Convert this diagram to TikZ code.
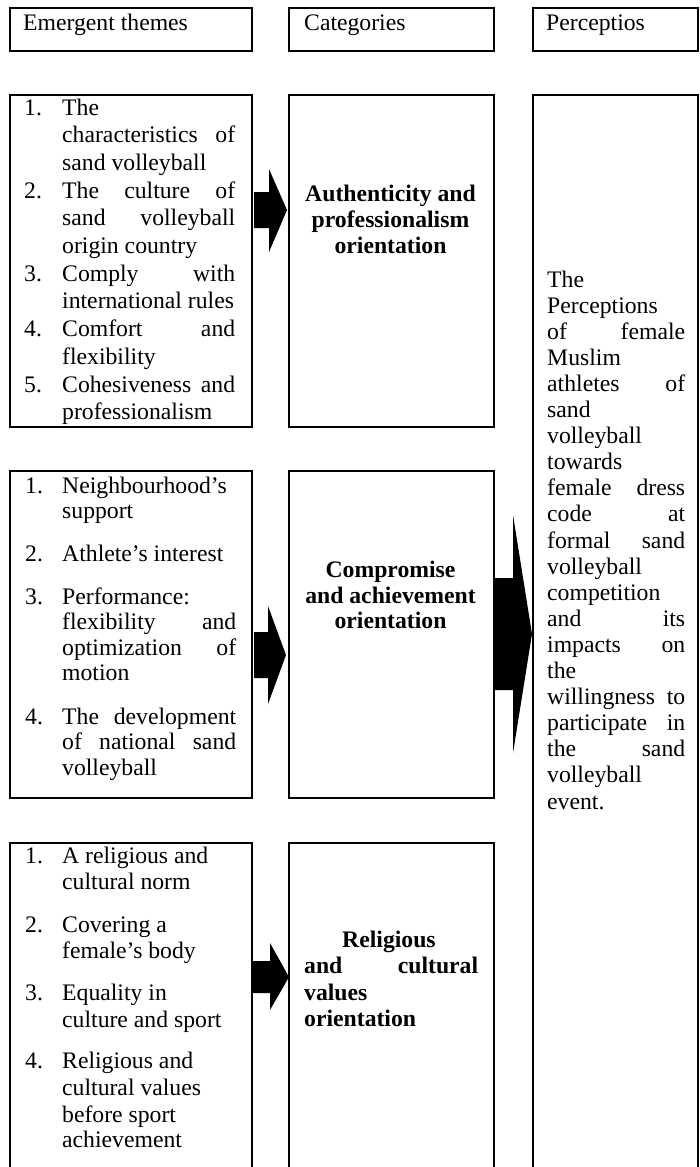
\documentclass[tikz,border=0pt]{standalone}
\usepackage{fontspec}
\setmainfont{Liberation Serif}
\newcommand\JL[2]{\makebox[#1pt][s]{#2}}
\begin{document}
\begin{tikzpicture}[x=1pt,y=-1pt,
  box/.style={draw=black, line width=1.6pt, inner sep=0pt, anchor=north west},
  txt/.style={anchor=base west, inner sep=0pt, font=\fontsize{23.7}{26}\selectfont},
  ctxt/.style={anchor=base, inner sep=0pt, font=\fontsize{23.7}{26}\selectfont\bfseries},
  btxt/.style={anchor=base west, inner sep=0pt, font=\fontsize{23.7}{26}\selectfont\bfseries},
  blk/.style={fill=black, draw=none}]
\useasboundingbox (0,0) rectangle (699,1167);
\fill[white] (0,0) rectangle (699,1167);
\clip (0,0) rectangle (699,1167);

% header boxes
\node[box, minimum width=242pt, minimum height=43pt] (h1) at (9,7) {};
\node[box, minimum width=205pt, minimum height=43pt] (h2) at (288,7) {};
\node[box, minimum width=165pt, minimum height=43pt] (h3) at (532,7) {};
\node[txt] (ht1) at (23,30) {Emergent themes};
\node[txt] (ht2) at (304,30) {Categories};
\node[txt] (ht3) at (546,30) {Perceptios};

% main boxes
\node[box, minimum width=242pt, minimum height=332pt] (l1) at (9,94) {};
\node[box, minimum width=205pt, minimum height=332pt] (c1) at (288,94) {};
\node[box, minimum width=242pt, minimum height=327pt] (l2) at (9,470) {};
\node[box, minimum width=205pt, minimum height=327pt] (c2) at (288,470) {};
\node[box, minimum width=242pt, minimum height=340pt] (l3) at (9,842) {};
\node[box, minimum width=205pt, minimum height=340pt] (c3) at (288,842) {};
\node[box, minimum width=165pt, minimum height=1090pt] (r) at (532,94) {};

% row 1 left
\node[txt] (n11) at (24,115) {1.};
\node[txt] (n12) at (24,198.1) {2.};
\node[txt] (n13) at (24,281.2) {3.};
\node[txt] (n14) at (24,336.6) {4.};
\node[txt] (n15) at (24,392) {5.};
\node[txt] (a1) at (62,115) {The};
\node[txt] (a2) at (62,142.7) {\JL{173}{characteristics of}};
\node[txt] (a3) at (62,170.4) {sand volleyball};
\node[txt] (a4) at (62,198.1) {\JL{173}{The culture of}};
\node[txt] (a5) at (62,225.8) {\JL{173}{sand volleyball}};
\node[txt] (a6) at (62,253.5) {origin country};
\node[txt] (a7) at (62,281.2) {\JL{173}{Comply with}};
\node[txt] (a8) at (62,308.9) {international rules};
\node[txt] (a9) at (62,336.6) {\JL{173}{Comfort and}};
\node[txt] (a10) at (62,364.3) {flexibility};
\node[txt] (a11) at (62,392) {\JL{173}{Cohesiveness and}};
\node[txt] (a12) at (62,419.7) {professionalism};

% category 1
\node[ctxt] (ca1) at (390.5,201) {Authenticity and};
\node[ctxt] (ca2) at (390.5,227) {professionalism};
\node[ctxt] (ca3) at (390.5,253) {orientation};

% row 2 left
\node[txt] (n21) at (25,493) {1.};
\node[txt] (n22) at (25,561) {2.};
\node[txt] (n23) at (25,604) {3.};
\node[txt] (n24) at (25,724) {4.};
\node[txt] (b1) at (62,493) {Neighbourhood’s};
\node[txt] (b2) at (62,518.5) {support};
\node[txt] (b3) at (62,561) {Athlete’s interest};
\node[txt] (b4) at (62,604) {Performance:};
\node[txt] (b5) at (62,629.5) {\JL{174}{flexibility and}};
\node[txt] (b6) at (62,655) {\JL{174}{optimization of}};
\node[txt] (b7) at (62,680.5) {motion};
\node[txt] (b8) at (62,724) {\JL{174}{The development}};
\node[txt] (b9) at (62,749.5) {\JL{174}{of national sand}};
\node[txt] (b10) at (62,775) {volleyball};

% category 2
\node[ctxt] (cb1) at (390.5,577) {Compromise};
\node[ctxt] (cb2) at (390.5,603) {and achievement};
\node[ctxt] (cb3) at (390.5,628) {orientation};

% row 3 left
\node[txt] (n31) at (25,863) {1.};
\node[txt] (n32) at (25,932) {2.};
\node[txt] (n33) at (25,1000) {3.};
\node[txt] (n34) at (25,1068) {4.};
\node[txt] (d1) at (62,863) {A religious and};
\node[txt] (d2) at (62,889) {cultural norm};
\node[txt] (d3) at (62,932) {Covering a};
\node[txt] (d4) at (62,958) {female’s body};
\node[txt] (d5) at (62,1000) {Equality in};
\node[txt] (d6) at (62,1027) {culture and sport};
\node[txt] (d7) at (62,1068) {Religious and};
\node[txt] (d8) at (62,1095) {cultural values};
\node[txt] (d9) at (62,1122) {before sport};
\node[txt] (d10) at (62,1147) {achievement};

% category 3
\node[btxt] (cc1) at (342,947) {Religious};
\node[btxt] (cc2) at (304,973) {\JL{174}{and cultural}};
\node[btxt] (cc3) at (304,1000) {values};
\node[btxt] (cc4) at (304,1026) {orientation};

% right column
\foreach \t [count=\i from 0] in {The,Perceptions,\JL{138}{of female},Muslim,\JL{138}{athletes of},sand,volleyball,towards,\JL{138}{female dress},\JL{138}{code at},\JL{138}{formal sand},volleyball,competition,\JL{138}{and its},\JL{138}{impacts on},the,\JL{138}{willingness to},\JL{138}{participate in},\JL{138}{the sand},volleyball,event.}{
  \node[txt] (p\i) at (547,287+26.1*\i) {\t};
}

% block arrows
\fill[blk] (254,192) -- (269,192) -- (269,169) -- (287,210) -- (269,252) -- (269,228) -- (254,228) -- cycle;
\fill[blk] (254,632) -- (268,632) -- (268,606) -- (286,655) -- (268,704) -- (268,678) -- (254,678) -- cycle;
\fill[blk] (253,961) -- (270,961) -- (270,943) -- (289,977) -- (270,1010) -- (270,993) -- (253,993) -- cycle;
\fill[blk] (493,578) -- (513,578) -- (513,515) -- (532,634) -- (513,753) -- (513,690) -- (493,690) -- cycle;
\end{tikzpicture}
\end{document}
